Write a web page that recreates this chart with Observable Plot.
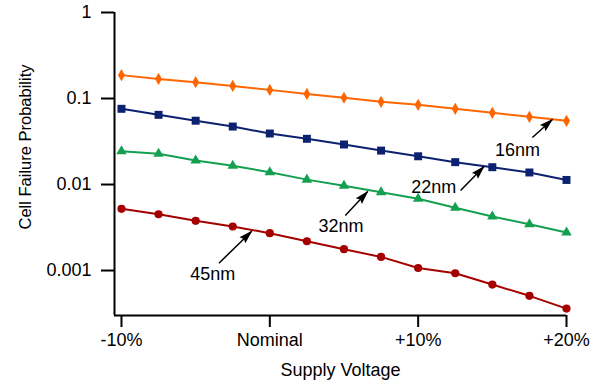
<!DOCTYPE html>
<html><head><meta charset="utf-8">
<script src="https://cdn.jsdelivr.net/npm/d3@7"></script>
<script src="https://cdn.jsdelivr.net/npm/@observablehq/plot@0.6"></script>
<style>body{margin:0;background:#fff}</style>
</head><body><div id="chart"></div>
<script>
// ---- data ----
const voltages = [-10, -7.5, -5, -2.5, 0, 2.5, 5, 7.5, 10, 12.5, 15, 17.5, 20];
const nodes = ["16nm", "22nm", "32nm", "45nm"];
const p16 = [0.187, 0.169, 0.155, 0.140, 0.126, 0.113, 0.102, 0.0916, 0.0845, 0.0759, 0.0682, 0.0613, 0.0550];
const p22 = [0.0759, 0.0646, 0.0552, 0.0472, 0.0392, 0.0340, 0.0292, 0.0248, 0.0213, 0.0182, 0.0159, 0.0138, 0.0113];
const p32 = [0.0244, 0.0228, 0.0190, 0.0165, 0.0139, 0.0114, 0.00966, 0.00813, 0.00682, 0.00536, 0.00425, 0.00345, 0.00277];
const p45 = [0.00522, 0.00451, 0.00378, 0.00325, 0.00272, 0.00219, 0.00177, 0.00144, 0.00107, 0.00093, 0.000687, 0.000508, 0.000361];
const xTicks = [-10, 0, 10, 20];
const xTickLabels = ["-10%", "Nominal", "+10%", "+20%"];
const yTicks = [1, 0.1, 0.01, 0.001];
const yTickLabels = ["1", "0.1", "0.01", "0.001"];
const xLabel = "Supply Voltage";
const yLabel = "Cell Failure Probability";
// annotation anchor points (data space)
const annTextX = [16.69, 11.05, 4.80, -3.85];
const annTextY = [0.0252, 0.0094, 0.00331, 0.000916];
const annTailX = [17.70, 12.86, 5.09, -3.43];
const annTailY = [0.0352, 0.00851, 0.00436, 0.001216];
const annHeadX = [19.05, 14.44, 6.60, -1.22];
const annHeadY = [0.0570, 0.01619, 0.00829, 0.002864];

// ---- styling ----
const colors = ["#ff6600", "#0c2170", "#14a050", "#a50000"];
const symbols = ["diamond", "square", "triangle", "circle"];
const radii = [3.7, 4.5, 3.9, 4.1];
const series = [p16, p22, p32, p45];
const font = "'Liberation Sans', Arial, Helvetica, sans-serif";

const rows = nodes.flatMap((n, i) => voltages.map((v, j) => ({node: n, v, p: series[i][j]})));
const ann = nodes.map((n, i) => ({
  node: n, tx: annTextX[i], ty: annTextY[i],
  x1: annTailX[i], y1: annTailY[i], x2: annHeadX[i], y2: annHeadY[i]
}));

const xDomain = [-10.47, 20];
const yDomain = [0.0003, 1];

const arrowHead = {
  draw(ctx) {
    ctx.moveTo(0, -1);
    ctx.lineTo(4.2, 13);
    ctx.lineTo(0, 11);
    ctx.lineTo(-4.2, 13);
    ctx.closePath();
  }
};

function build(angles) {
  const marks = [
    Plot.ruleX([xDomain[0]], {stroke: "black", strokeWidth: 2}),
    Plot.ruleY([yDomain[0]], {stroke: "black", strokeWidth: 2}),
    Plot.axisX(xTicks, {tickSize: 12, tickPadding: 6, strokeWidth: 2, stroke: "black", fill: "black",
      fontSize: 18, label: null, tickFormat: d => xTickLabels[xTicks.indexOf(d)]}),
    Plot.axisY(yTicks, {tickSize: 13, tickPadding: 10, strokeWidth: 2, stroke: "black", fill: "black",
      fontSize: 18, label: null, tickFormat: d => yTickLabels[yTicks.indexOf(d)]}),
    Plot.text([xLabel], {frameAnchor: "bottom", dy: 48, lineAnchor: "top", fontSize: 18, fill: "black", text: d => d}),
    Plot.text([yLabel], {frameAnchor: "left", textAnchor: "middle", dx: -89, dy: -17, rotate: -90, fontSize: 16.5, fill: "black", text: d => d}),
  ];
  nodes.forEach((n, i) => {
    const d = rows.filter(r => r.node === n);
    marks.push(Plot.line(d, {x: "v", y: "p", stroke: colors[i], strokeWidth: 2}));
    marks.push(Plot.dot(d, {x: "v", y: "p", symbol: symbols[i], r: radii[i], fill: colors[i], stroke: "none"}));
  });
  marks.push(Plot.link(ann, {x1: "x1", y1: "y1", x2: "x2", y2: "y2", stroke: "black", strokeWidth: 1.5}));
  if (angles) {
    marks.push(Plot.dot(ann, {x: "x2", y: "y2", symbol: arrowHead, fill: "black", stroke: "none",
      rotate: (d, i) => angles[i]}));
  }
  marks.push(Plot.text(ann, {x: "tx", y: "ty", text: "node", fontSize: 18, fill: "black"}));
  return Plot.plot({
    width: 597, height: 383,
    marginTop: 12, marginRight: 31, marginBottom: 68, marginLeft: 114,
    style: {fontFamily: font, fontSize: "18px", color: "black", background: "white", overflow: "visible"},
    x: {domain: xDomain},
    y: {type: "log", domain: yDomain},
    marks
  });
}

const first = build(null);
const sx = first.scale("x"), sy = first.scale("y");
const angles = ann.map(a => {
  const dx = sx.apply(a.x2) - sx.apply(a.x1);
  const dy = sy.apply(a.y2) - sy.apply(a.y1);
  return Math.atan2(dx, -dy) * 180 / Math.PI;
});
document.getElementById("chart").append(build(angles));
</script>
</body></html>
